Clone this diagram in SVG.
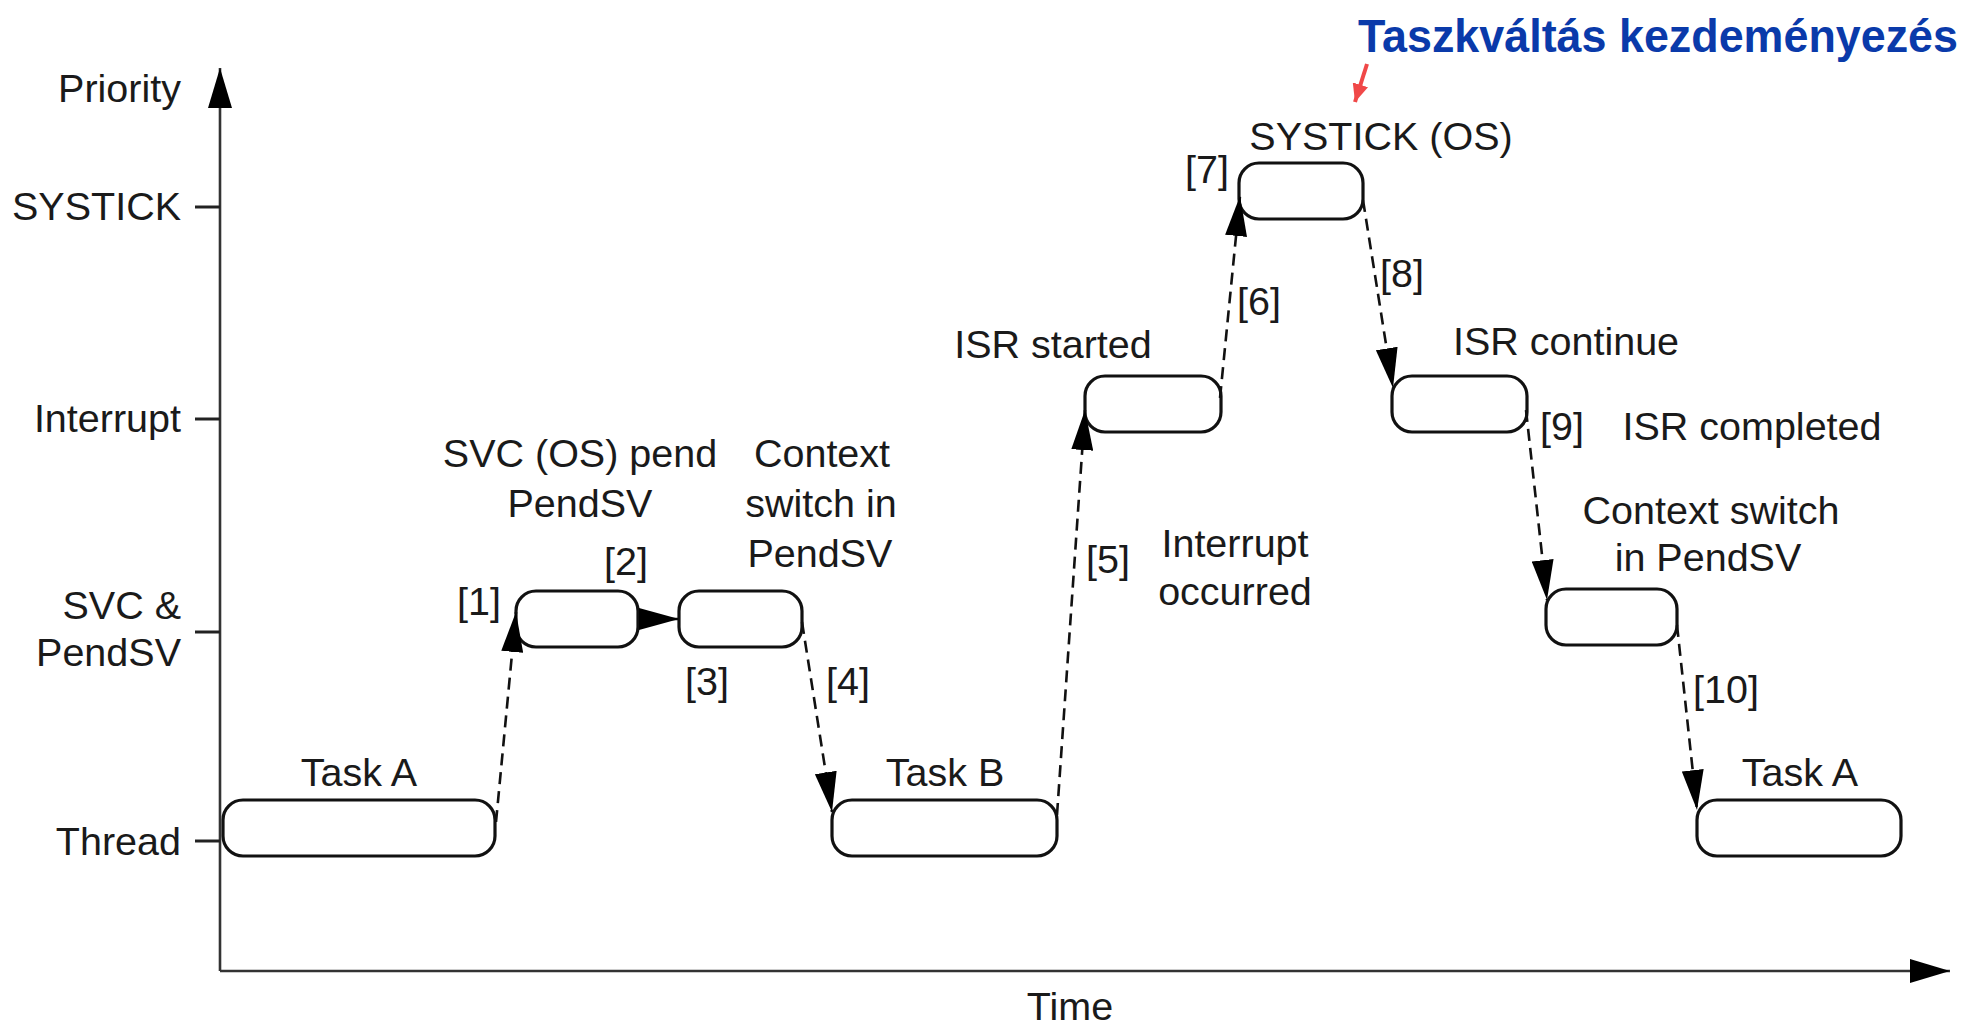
<svg xmlns="http://www.w3.org/2000/svg" width="1986" height="1026" viewBox="0 0 1986 1026">
  <style>
    .lbl { font-family: "Liberation Sans", Arial, Helvetica, sans-serif; font-size: 39.5px; fill: #1a1a1a; }
    .mid { text-anchor: middle; }
    .end { text-anchor: end; }
    .box { fill: #ffffff; stroke: #111111; stroke-width: 3.2; }
    .axis { stroke: #333333; stroke-width: 2.6; fill: none; }
    .tick { stroke: #222222; stroke-width: 3; }
    .dash { stroke: #111111; stroke-width: 2.6; fill: none; stroke-dasharray: 12 7; marker-end: url(#head); }
    .solid { stroke: #111111; stroke-width: 2.6; fill: none; marker-end: url(#head); }
    .title { font-family: "Liberation Sans", Arial, Helvetica, sans-serif; font-size: 47px; font-weight: bold; fill: #0a3aaa; }
  </style>
  <defs>
    <marker id="head" viewBox="0 0 40 22" refX="40" refY="11" markerWidth="40" markerHeight="22" markerUnits="userSpaceOnUse" orient="auto">
      <path d="M0,0 L40,11 L0,22 Z" fill="#000000"/>
    </marker>
    <marker id="axhead" viewBox="0 0 40 24" refX="40" refY="12" markerWidth="40" markerHeight="24" markerUnits="userSpaceOnUse" orient="auto">
      <path d="M0,0 L40,12 L0,24 Z" fill="#000000"/>
    </marker>
    <marker id="redhead" viewBox="0 0 18 16" refX="18" refY="8" markerWidth="18" markerHeight="16" markerUnits="userSpaceOnUse" orient="auto">
      <path d="M0,0 L18,8 L0,16 Z" fill="#f04848"/>
    </marker>
  </defs>

  <rect width="1986" height="1026" fill="#ffffff"/>

  <!-- axes -->
  <g id="axes">
    <line class="axis" x1="220" y1="971" x2="220" y2="68" marker-end="url(#axhead)"/>
    <line class="axis" x1="220" y1="971" x2="1950" y2="971" marker-end="url(#axhead)"/>
    <line class="tick" x1="195" y1="207" x2="220" y2="207"/>
    <line class="tick" x1="195" y1="419" x2="220" y2="419"/>
    <line class="tick" x1="195" y1="632" x2="220" y2="632"/>
    <line class="tick" x1="195" y1="841" x2="220" y2="841"/>
    <text class="lbl end" x="181" y="102">Priority</text>
    <text class="lbl end" x="181" y="220">SYSTICK</text>
    <text class="lbl end" x="181" y="432">Interrupt</text>
    <text class="lbl end" x="181" y="619">SVC &amp;</text>
    <text class="lbl end" x="181" y="666">PendSV</text>
    <text class="lbl end" x="181" y="855">Thread</text>
    <text class="lbl mid" x="1070" y="1020">Time</text>
  </g>

  <!-- execution intervals -->
  <g id="task-a">
    <rect class="box" x="223" y="800" width="272" height="56" rx="20"/>
    <text class="lbl mid" x="359" y="786">Task A</text>
  </g>
  <g id="svc">
    <rect class="box" x="516" y="591" width="122" height="56" rx="20"/>
    <text class="lbl mid" x="580" y="467">SVC (OS) pend</text>
    <text class="lbl mid" x="580" y="517">PendSV</text>
  </g>
  <g id="pendsv-1">
    <rect class="box" x="679" y="591" width="123" height="56" rx="20"/>
    <text class="lbl mid" x="822" y="467">Context</text>
    <text class="lbl mid" x="821" y="517">switch in</text>
    <text class="lbl mid" x="820" y="567">PendSV</text>
  </g>
  <g id="task-b">
    <rect class="box" x="832" y="800" width="225" height="56" rx="20"/>
    <text class="lbl mid" x="945" y="786">Task B</text>
  </g>
  <g id="isr-start">
    <rect class="box" x="1085" y="376" width="136" height="56" rx="20"/>
    <text class="lbl mid" x="1053" y="358">ISR started</text>
  </g>
  <g id="systick">
    <rect class="box" x="1239" y="163" width="124" height="56" rx="20"/>
    <text class="lbl mid" x="1381" y="150">SYSTICK (OS)</text>
  </g>
  <g id="isr-continue">
    <rect class="box" x="1392" y="376" width="135" height="56" rx="20"/>
    <text class="lbl mid" x="1566" y="355">ISR continue</text>
  </g>
  <g id="pendsv-2">
    <rect class="box" x="1546" y="589" width="131" height="56" rx="20"/>
    <text class="lbl mid" x="1711" y="524">Context switch</text>
    <text class="lbl mid" x="1708" y="571">in PendSV</text>
  </g>
  <g id="task-a-again">
    <rect class="box" x="1697" y="800" width="204" height="56" rx="20"/>
    <text class="lbl mid" x="1800" y="786">Task A</text>
  </g>

  <!-- transitions -->
  <g id="connectors">
    <line class="dash" x1="496" y1="822" x2="516" y2="612"/>
    <line class="solid" x1="638" y1="619" x2="679" y2="619"/>
    <line class="dash" x1="802" y1="622" x2="832" y2="812"/>
    <line class="dash" x1="1057" y1="815" x2="1085" y2="410"/>
    <line class="dash" x1="1220" y1="398" x2="1240" y2="196"/>
    <line class="dash" x1="1363" y1="200" x2="1393" y2="388"/>
    <line class="dash" x1="1526" y1="410" x2="1547" y2="600"/>
    <line class="dash" x1="1677" y1="625" x2="1697" y2="810"/>

    <text class="lbl mid" x="479" y="615">[1]</text>
    <text class="lbl mid" x="626" y="575">[2]</text>
    <text class="lbl mid" x="707" y="695">[3]</text>
    <text class="lbl mid" x="848" y="695">[4]</text>
    <text class="lbl mid" x="1108" y="573">[5]</text>
    <text class="lbl mid" x="1235" y="557">Interrupt</text>
    <text class="lbl mid" x="1235" y="605">occurred</text>
    <text class="lbl mid" x="1259" y="315">[6]</text>
    <text class="lbl mid" x="1207" y="183">[7]</text>
    <text class="lbl mid" x="1402" y="287">[8]</text>
    <text class="lbl mid" x="1562" y="440">[9]</text>
    <text class="lbl mid" x="1752" y="440">ISR completed</text>
    <text class="lbl mid" x="1726" y="703">[10]</text>
  </g>

  <!-- annotation -->
  <g id="annotation">
    <text class="title" x="1358" y="52" textLength="600" lengthAdjust="spacingAndGlyphs">Taszkváltás kezdeményezés</text>
    <line x1="1367" y1="64" x2="1355" y2="102" stroke="#f04848" stroke-width="4" marker-end="url(#redhead)"/>
  </g>
</svg>
